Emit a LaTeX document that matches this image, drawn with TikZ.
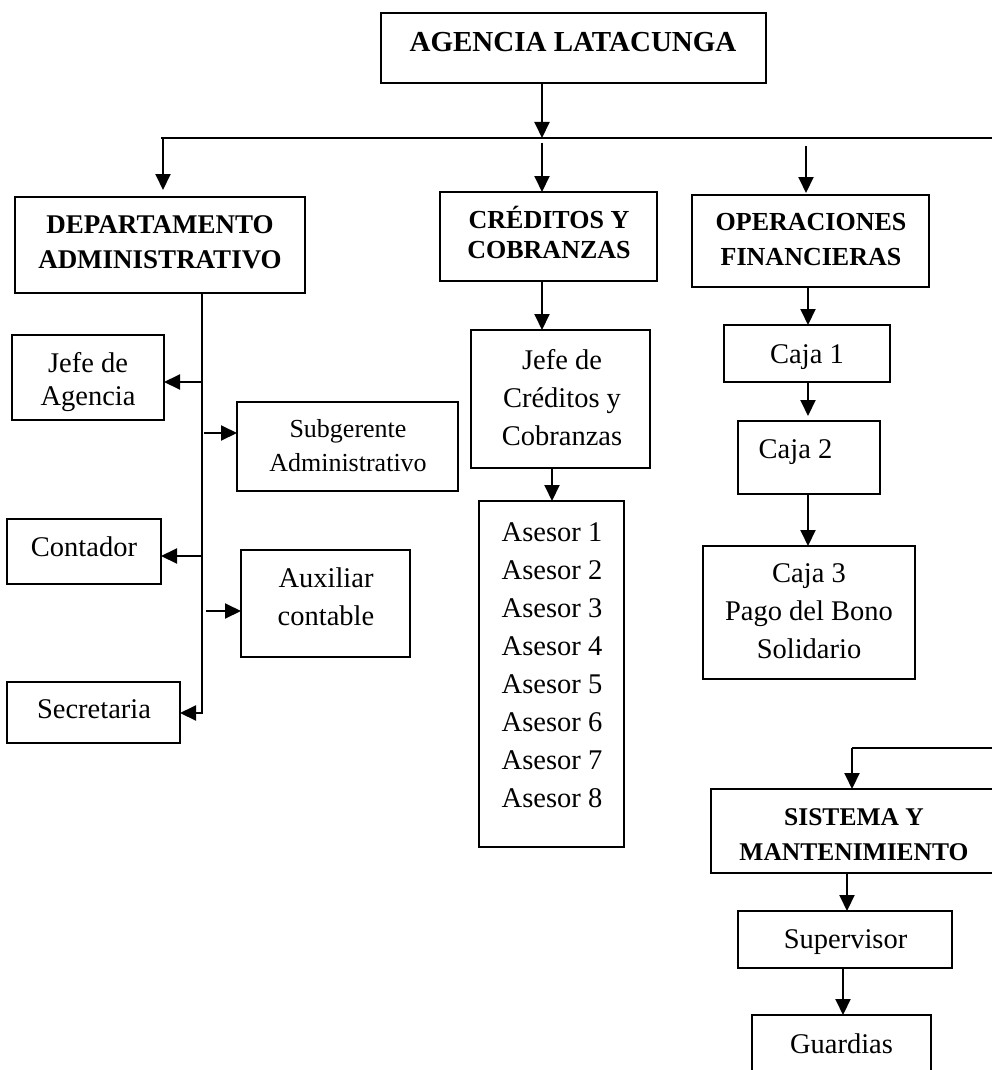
\documentclass[tikz,border=0pt]{standalone}
\usepackage{fontspec}
\setmainfont{Liberation Serif}
\usetikzlibrary{arrows.meta}
\newcommand\orgbox[5]{\node[box, minimum width=#4-#2, minimum height=#5-#3] (#1) at ({(#2+#4)/2},{(#3+#5)/2}) {};}
\begin{document}
\begin{tikzpicture}[x=1pt,y=-1pt,
  box/.style={draw, line width=2pt, inner sep=0pt, outer sep=0pt},
  lbl/.style={inner sep=0pt, outer sep=0pt, anchor=base, align=center},
  reg/.style={font=\fontsize{28.5}{38}\selectfont},
  hdr/.style={font=\fontsize{26}{35}\selectfont\bfseries},
  ln/.style={line width=2pt},
  arr/.style={line width=2pt, -{Triangle[length=16pt,width=15pt]}}]
\clip (0,0) rectangle (992,1070);
\fill[white] (0,0) rectangle (992,1070);
% boxes
\orgbox{agencia}{381}{13}{766}{83}
\orgbox{dept}{15}{197}{305}{293}
\orgbox{cred}{440}{192}{657}{281}
\orgbox{oper}{692}{195}{929}{287}
\orgbox{jefeA}{12}{335}{164}{420}
\orgbox{subg}{237}{402}{458}{491}
\orgbox{cont}{7}{519}{161}{584}
\orgbox{aux}{241}{550}{410}{657}
\orgbox{secr}{7}{682}{180}{743}
\orgbox{jefeC}{471}{330}{650}{468}
\orgbox{ases}{479}{501}{624}{847}
\orgbox{caja1}{724}{325}{890}{382}
\orgbox{caja2}{738}{421}{880}{494}
\orgbox{caja3}{703}{546}{915}{679}
\orgbox{sist}{711}{789}{997}{873}
\orgbox{sup}{738}{911}{952}{968}
\orgbox{guard}{752}{1015}{931}{1080}
% texts
\node[lbl, font=\fontsize{29}{35}\selectfont\bfseries] (t-agencia) at (573,52) {AGENCIA LATACUNGA};
\node[lbl, font=\fontsize{27}{35}\selectfont\bfseries] (t-dept) at (160,268) {DEPARTAMENTO\\ADMINISTRATIVO};
\node[lbl, font=\fontsize{26}{30}\selectfont\bfseries] (t-cred) at (549,258) {CRÉDITOS Y\\COBRANZAS};
\node[lbl, hdr] (t-oper) at (811,265) {OPERACIONES\\FINANCIERAS};
\node[lbl, font=\fontsize{28.5}{33}\selectfont] (t-jefeA) at (88,405) {Jefe de\\Agencia};
\node[lbl, font=\fontsize{26}{34}\selectfont] (t-subg) at (348,471) {Subgerente\\Administrativo};
\node[lbl, reg] (t-cont) at (84,556) {Contador};
\node[lbl, reg] (t-aux) at (326,625) {Auxiliar\\contable};
\node[lbl, reg] (t-secr) at (94,718) {Secretaria};
\node[lbl, reg] (t-jefeC) at (562,445) {Jefe de\\Créditos y\\Cobranzas};
\node[lbl, reg] (t-ases) at (552,807) {Asesor 1\\Asesor 2\\Asesor 3\\Asesor 4\\Asesor 5\\Asesor 6\\Asesor 7\\Asesor 8};
\node[lbl, reg] (t-caja1) at (807,363) {Caja 1};
\node[lbl, reg] (t-caja2) at (795.5,458) {Caja 2};
\node[lbl, reg] (t-caja3) at (809,658) {Caja 3\\Pago del Bono\\Solidario};
\node[lbl, font=\fontsize{25.5}{35}\selectfont\bfseries] (t-sist) at (854,860) {SISTEMA Y\\MANTENIMIENTO};
\node[lbl, reg] (t-sup) at (845.5,948) {Supervisor};
\node[lbl, reg] (t-guard) at (841.5,1053) {Guardias};
% helper coordinates
\coordinate (bL) at (161,138);
\coordinate (bR) at (1002,138);
\coordinate (sR) at (1002,748);
\coordinate (sL) at (852,748);
\coordinate (cA) at (542,0);
\coordinate (cD) at (163,0);
\coordinate (cO) at (806,0);
\coordinate (tr) at (202,0);
\coordinate (cJ) at (552,0);
\coordinate (cK) at (808,0);
\coordinate (cS) at (847,0);
\coordinate (cG) at (843,0);
\coordinate (r1) at (0,382);
\coordinate (r2) at (0,433);
\coordinate (r3) at (0,556);
\coordinate (r4) at (0,611);
\coordinate (r5) at (0,713);
% connectors
\draw[ln] (bL) -- (bR) -- (sR) -- (sL);
\draw[arr] (sL) -- (sist.north -| sL);
\draw[arr] (agencia.south -| cA) -- (bL -| cA);
\draw[arr, shorten >=7pt] (bL -| cD) -- (dept.north -| cD);
\draw[arr, shorten <=5pt] (bL -| cA) -- (cred.north -| cA);
\draw[arr, shorten <=8pt, shorten >=2pt] (bL -| cO) -- (oper.north -| cO);
\draw[arr] (dept.south -| tr) -- (tr |- r5) -- (secr.east |- r5);
\draw[arr] (tr |- r1) -- (jefeA.east |- r1);
\draw[arr, shorten <=2pt] (tr |- r2) -- (subg.west |- r2);
\draw[arr] (tr |- r3) -- (cont.east |- r3);
\draw[arr, shorten <=4pt] (tr |- r4) -- (aux.west |- r4);
\draw[arr] (cred.south -| cA) -- (jefeC.north -| cA);
\draw[arr] (jefeC.south -| cJ) -- (ases.north -| cJ);
\draw[arr] (oper.south -| cK) -- (caja1.north -| cK);
\draw[arr, shorten >=5pt] (caja1.south -| cK) -- (caja2.north -| cK);
\draw[arr] (caja2.south -| cK) -- (caja3.north -| cK);
\draw[arr] (sist.south -| cS) -- (sup.north -| cS);
\draw[arr] (sup.south -| cG) -- (guard.north -| cG);
\end{tikzpicture}
\end{document}
